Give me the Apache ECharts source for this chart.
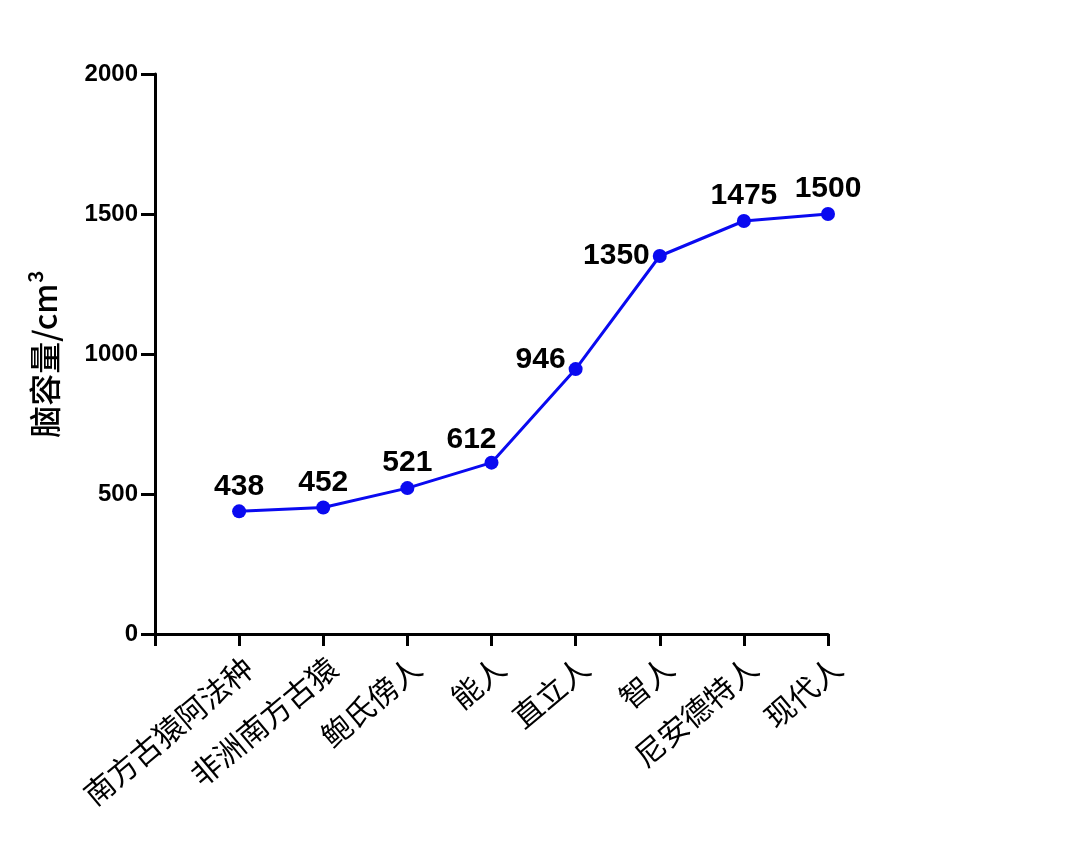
<!DOCTYPE html>
<html><head><meta charset="utf-8">
<script src="https://cdn.jsdelivr.net/npm/echarts@6/dist/echarts.min.js"></script>
<style>html,body{margin:0;padding:0;background:#fff}#c{width:1080px;height:864px}</style>
</head><body><div id="c"></div>
<script>
const categories = ['', '南方古猿阿法种', '非洲南方古猿', '鲍氏傍人', '能人', '直立人', '智人', '尼安德特人', '现代人'];
const values = [null, 438, 452, 521, 612, 946, 1350, 1475, 1500];
const labelPositions = [null, 'top', 'top', 'top', 'top', 'left', 'left', 'top', 'top'];
const yTicks = {min: 0, max: 2000, interval: 500};
const yName = '脑容量/cm³';

const chart = echarts.init(document.getElementById('c'));
const data = values.map((v, i) => {
  if (v === null) return null;
  const item = {value: v, label: {position: labelPositions[i]}};
  if (i === 4) item.label = {position: 'top', offset: [-20, 2]};
  if (i === 5) item.label = {position: 'left', offset: [0, -9]};
  return item;
});
chart.setOption({
  animation: false,
  grid: {left: 155, top: 74, right: 252, bottom: 230},
  xAxis: {
    type: 'category', data: categories, boundaryGap: false,
    axisLine: {lineStyle: {color: '#000', width: 3}},
    axisTick: {length: 12, lineStyle: {width: 3, color: '#000'}},
    axisLabel: {interval: 0, rotate: 40, fontSize: 30, color: '#000', margin: 18,
      verticalAlign: 'top',
      fontFamily: '"Noto Sans CJK SC", sans-serif'},
    splitLine: {show: false}
  },
  yAxis: {
    type: 'value', min: yTicks.min, max: yTicks.max, interval: yTicks.interval,
    name: yName, nameLocation: 'middle', nameRotate: 90, nameGap: 94,
    nameTextStyle: {fontSize: 32, fontWeight: 500, color: '#000', fontFamily: '"Noto Sans CJK SC", sans-serif'},
    axisLine: {show: true, lineStyle: {color: '#000', width: 3}},
    axisTick: {show: true, length: 14, lineStyle: {width: 3, color: '#000'}},
    axisLabel: {fontSize: 24, fontWeight: 'bold', color: '#000', margin: 17,
      fontFamily: 'Liberation Sans, Arial, sans-serif', formatter: v => String(v)},
    splitLine: {show: false}
  },
  series: [{
    type: 'line', data: data, connectNulls: false,
    symbol: 'circle', symbolSize: 14,
    lineStyle: {color: '#0a0af0', width: 3},
    itemStyle: {color: '#0a0af0'},
    label: {show: true, fontSize: 30, fontWeight: 'bold', color: '#000', distance: 3,
      fontFamily: 'Liberation Sans, Arial, sans-serif'}
  }]
});
</script></body></html>
